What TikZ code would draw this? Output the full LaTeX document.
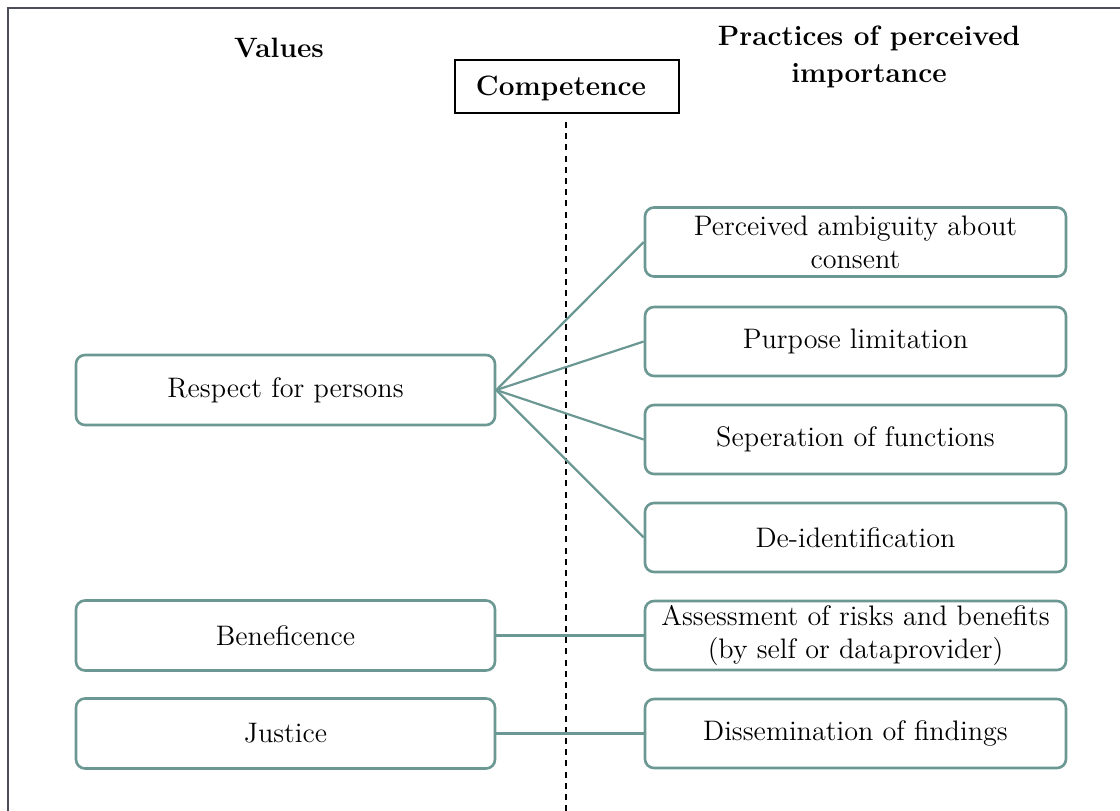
\documentclass[tikz,border=0pt]{standalone}
\usepackage{tikz}
\definecolor{boxteal}{RGB}{107,152,146}
\definecolor{framegray}{RGB}{75,78,90}
\tikzset{
  valbox/.style={draw=boxteal, line width=1.3pt, rounded corners=4.5pt, fill=white,
    minimum width=209.5pt, minimum height=35pt, align=center, inner sep=1pt,
    font=\fontsize{14.1}{16.5}\selectfont},
  pracbox/.style={valbox, minimum width=210.5pt, minimum height=34.5pt},
  link/.style={draw=boxteal, line width=1.1pt},
  header/.style={align=center, inner sep=0pt, font=\fontsize{14}{18.5}\selectfont\bfseries},
  compbox/.style={draw=black, line width=0.6pt, minimum width=112pt, minimum height=26.5pt, inner sep=0pt},
  divider/.style={draw=black, line width=0.8pt, dash pattern=on 3pt off 2.6pt}
}
\begin{document}
\begin{tikzpicture}[x=0.5pt, y=-0.5pt]
\useasboundingbox (0,0) rectangle (1120,810);
% outer frame (continues beyond the page on the right and bottom)
\draw[framegray, line width=1.3pt] (8,812) -- (8,8) -- (1122,8);

% column headings
\node[header] (hval) at (279,48) {Values};
\node[header] (hprac) at (869,57) {Practices of perceived\\importance};

% competence box and dividing line
\node[compbox] (comp) at (567,86.5) {};
\node[header] (comptext) at (561,88) {Competence};
\coordinate (dtop) at (566,122);
\coordinate (dbot) at (566,812);
\draw[divider] (dtop) -- (dbot);

% values
\node[valbox] (resp) at (285.5,390) {Respect for persons};
\node[valbox] (bene) at (285.5,635.5) {Beneficence};
\node[valbox] (just) at (285.5,733.5) {Justice};

% practices
\node[pracbox] (amb) at (855.5,242) {Perceived ambiguity about\\consent};
\node[pracbox] (purp) at (855.5,341.5) {Purpose limitation};
\node[pracbox] (sep) at (855.5,439.5) {Seperation of functions};
\node[pracbox] (deid) at (855.5,537.5) {De-identification};
\node[pracbox] (risk) at (855.5,635.5) {Assessment of risks and benefits\\(by self or dataprovider)};
\node[pracbox] (diss) at (855.5,733.5) {Dissemination of findings};

% links
\foreach \t in {amb,purp,sep,deid}
  \draw[link] (resp.east) -- (\t.west);
\draw[link] (bene.east) -- (risk.west);
\draw[link] (just.east) -- (diss.west);
\end{tikzpicture}
\end{document}
